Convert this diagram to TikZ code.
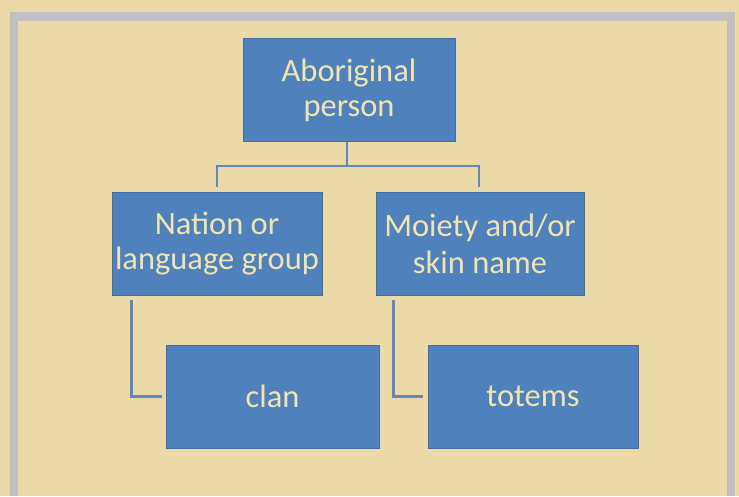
\documentclass[tikz,border=0pt]{standalone}
\usepackage{fontspec}
\setmainfont{Carlito}
\usetikzlibrary{calc}
\definecolor{bgc}{HTML}{EBDAA8}
\definecolor{framec}{HTML}{C0C0C0}
\definecolor{boxc}{HTML}{4F81BD}
\definecolor{txtc}{HTML}{F2E4AE}
\definecolor{linec}{HTML}{5A89C6}
\tikzset{
  box/.style={rectangle, fill=boxc, draw=boxc!85!black, line width=0.6pt, text=txtc, align=center,
    inner sep=0pt, font=\fontsize{32.5}{37}\selectfont},
  conn/.style={draw=linec, line width=2.6pt}
}
\begin{document}
\begin{tikzpicture}[x=1pt,y=-1pt]
\useasboundingbox (0,0) rectangle (739,496);
\fill[bgc] (0,0) rectangle (739,496);
\fill[framec] (10,12) rectangle (735,496);
\fill[bgc] (18,21) rectangle (727,496);

\node[box, minimum width=212pt, minimum height=103pt] (ab) at (349,90) {\raisebox{-2pt}{Aboriginal}\\person};
\node[box, minimum width=210pt, minimum height=103pt] (nat) at (217,243.5) {\raisebox{-2pt}{Nation or}\\language group};
\node[box, minimum width=208pt, minimum height=103pt] (moi) at (480,243.5) {Moiety and/or\\skin name};
\node[box, minimum width=213pt, minimum height=103pt] (clan) at (272.5,396.5) {clan};
\node[box, minimum width=210pt, minimum height=103pt] (tot) at (533,396.5) {totems};

\coordinate (j) at ($(ab.south)+(-2,24)$);
\draw[conn] ($(ab.south)+(-2,0)$) -- (j);
\draw[conn] ($(nat.north)+(0,-5)$) |- (j) -| ($(moi.north)+(-1,-5)$);
\draw[conn] ($(nat.south west)+(20,5)$) |- ($(clan.west)+(-4,0)$);
\draw[conn] ($(moi.south west)+(18,5)$) |- ($(tot.west)+(-5,0)$);
\end{tikzpicture}
\end{document}
